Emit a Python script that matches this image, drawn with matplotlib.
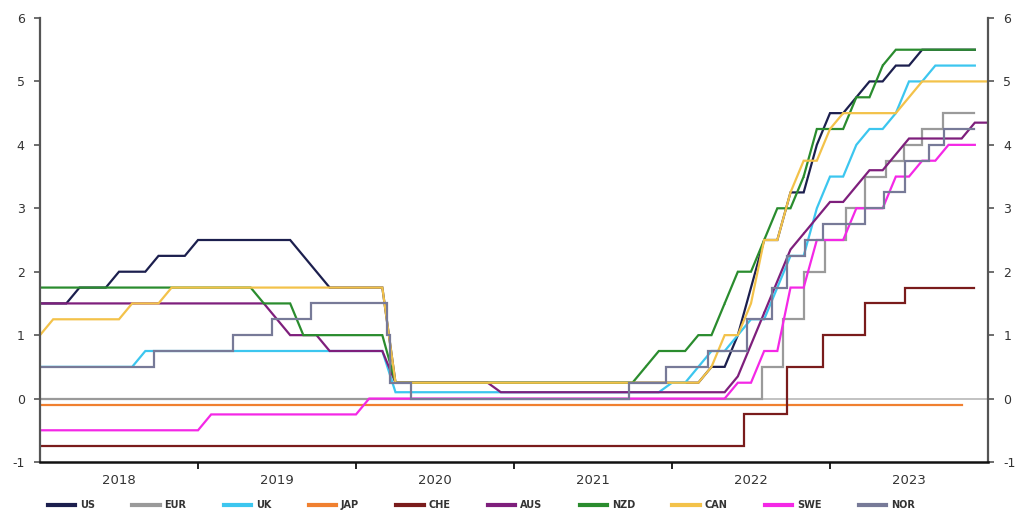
import datetime as dt
import matplotlib
matplotlib.use("Agg")
import matplotlib.pyplot as plt

# ---------------- data ----------------
# monthly (month-end) series: start value, (month, new value) changes, last month
US_start, US_end = 1.5, "2023-11"
US_changes = [("2018-03", 1.75), ("2018-06", 2.0), ("2018-09", 2.25), ("2018-12", 2.5),
              ("2019-08", 2.25), ("2019-09", 2.0), ("2019-10", 1.75), ("2020-03", 0.25),
              ("2022-03", 0.5), ("2022-05", 1.0), ("2022-06", 1.75), ("2022-07", 2.5),
              ("2022-09", 3.25), ("2022-11", 4.0), ("2022-12", 4.5), ("2023-02", 4.75),
              ("2023-03", 5.0), ("2023-05", 5.25), ("2023-07", 5.5)]

UK_start, UK_end = 0.5, "2023-11"
UK_changes = [("2018-08", 0.75), ("2020-03", 0.1), ("2021-12", 0.25), ("2022-02", 0.5),
              ("2022-03", 0.75), ("2022-05", 1.0), ("2022-06", 1.25), ("2022-08", 1.75),
              ("2022-09", 2.25), ("2022-11", 3.0), ("2022-12", 3.5), ("2023-02", 4.0),
              ("2023-03", 4.25), ("2023-05", 4.5), ("2023-06", 5.0), ("2023-08", 5.25)]

JAP_start, JAP_end = -0.1, "2023-10"
JAP_changes = []

AUS_start, AUS_end = 1.5, "2023-12"
AUS_changes = [("2019-06", 1.25), ("2019-07", 1.0), ("2019-10", 0.75), ("2020-03", 0.25),
               ("2020-11", 0.1), ("2022-05", 0.35), ("2022-06", 0.85), ("2022-07", 1.35),
               ("2022-08", 1.85), ("2022-09", 2.35), ("2022-10", 2.6), ("2022-11", 2.85),
               ("2022-12", 3.1), ("2023-02", 3.35), ("2023-03", 3.6), ("2023-05", 3.85),
               ("2023-06", 4.1), ("2023-11", 4.35)]

NZD_start, NZD_end = 1.75, "2023-11"
NZD_changes = [("2019-05", 1.5), ("2019-08", 1.0), ("2020-03", 0.25), ("2021-10", 0.5),
               ("2021-11", 0.75), ("2022-02", 1.0), ("2022-04", 1.5), ("2022-05", 2.0),
               ("2022-07", 2.5), ("2022-08", 3.0), ("2022-10", 3.5), ("2022-11", 4.25),
               ("2023-02", 4.75), ("2023-04", 5.25), ("2023-05", 5.5)]

CAN_start, CAN_end = 1.0, "2023-12"
CAN_changes = [("2018-01", 1.25), ("2018-07", 1.5), ("2018-10", 1.75), ("2020-03", 0.25),
               ("2022-03", 0.5), ("2022-04", 1.0), ("2022-06", 1.5), ("2022-07", 2.5),
               ("2022-09", 3.25), ("2022-10", 3.75), ("2022-12", 4.25), ("2023-01", 4.5),
               ("2023-06", 4.75), ("2023-07", 5.0)]

SWE_start, SWE_end = -0.5, "2023-11"
SWE_changes = [("2019-01", -0.25), ("2020-01", 0.0), ("2022-05", 0.25), ("2022-07", 0.75),
               ("2022-09", 1.75), ("2022-11", 2.5), ("2023-02", 3.0), ("2023-05", 3.5),
               ("2023-07", 3.75), ("2023-09", 4.0)]

# daily step series: start value, (date, new value) changes, last date
EUR_start, EUR_end = 0.0, "2023-11-30"
EUR_changes = [("2022-07-27", 0.5), ("2022-09-14", 1.25), ("2022-11-02", 2.0),
               ("2022-12-21", 2.5), ("2023-02-08", 3.0), ("2023-03-22", 3.5),
               ("2023-05-10", 3.75), ("2023-06-21", 4.0), ("2023-08-02", 4.25),
               ("2023-09-20", 4.5)]

CHE_start, CHE_end = -0.75, "2023-11-30"
CHE_changes = [("2022-06-17", -0.25), ("2022-09-23", 0.5), ("2022-12-16", 1.0),
               ("2023-03-24", 1.5), ("2023-06-23", 1.75)]

NOR_start, NOR_end = 0.5, "2023-11-30"
NOR_changes = [("2018-09-21", 0.75), ("2019-03-22", 1.0), ("2019-06-21", 1.25),
               ("2019-09-20", 1.5), ("2020-03-13", 1.0), ("2020-03-20", 0.25),
               ("2020-05-08", 0.0), ("2021-09-24", 0.25), ("2021-12-17", 0.5),
               ("2022-03-25", 0.75), ("2022-06-24", 1.25), ("2022-08-19", 1.75),
               ("2022-09-23", 2.25), ("2022-11-04", 2.5), ("2022-12-16", 2.75),
               ("2023-03-24", 3.0), ("2023-05-05", 3.25), ("2023-06-23", 3.75),
               ("2023-08-18", 4.0), ("2023-09-22", 4.25)]

years = [2018, 2019, 2020, 2021, 2022, 2023]
y_ticks = [-1, 0, 1, 2, 3, 4, 5, 6]

names = ["US", "EUR", "UK", "JAP", "CHE", "AUS", "NZD", "CAN", "SWE", "NOR"]
colors = {"US": "#1c1f4e", "EUR": "#9a9a9a", "UK": "#3cc6ef", "JAP": "#f08030",
          "CHE": "#7a1c1c", "AUS": "#7e1f7c", "NZD": "#2a8c2e", "CAN": "#f3c24a",
          "SWE": "#f428e6", "NOR": "#777a98"}


# ---------------- helpers ----------------
def month_end(s):
    y, m = s.split("-")
    return int(y) + int(m) / 12.0


def day_frac(s):
    d = dt.date.fromisoformat(s)
    start = dt.date(d.year, 1, 1)
    n = (dt.date(d.year + 1, 1, 1) - start).days
    return d.year + (d - start).days / n


def monthly_points(start, changes, end):
    xs, ys = [2018.0], [start]
    cur = start
    for mon, v in changes:
        t = month_end(mon)
        xs += [t - 1 / 12.0, t]
        ys += [cur, v]
        cur = v
    xs.append(month_end(end))
    ys.append(cur)
    return xs, ys


def step_points(start, changes, end):
    xs, ys = [2018.0], [start]
    cur = start
    for d, v in changes:
        t = day_frac(d)
        xs += [t, t]
        ys += [cur, v]
        cur = v
    xs.append(day_frac(end))
    ys.append(cur)
    return xs, ys


series = {
    "US": monthly_points(US_start, US_changes, US_end),
    "EUR": step_points(EUR_start, EUR_changes, EUR_end),
    "UK": monthly_points(UK_start, UK_changes, UK_end),
    "JAP": monthly_points(JAP_start, JAP_changes, JAP_end),
    "CHE": step_points(CHE_start, CHE_changes, CHE_end),
    "AUS": monthly_points(AUS_start, AUS_changes, AUS_end),
    "NZD": monthly_points(NZD_start, NZD_changes, NZD_end),
    "CAN": monthly_points(CAN_start, CAN_changes, CAN_end),
    "SWE": monthly_points(SWE_start, SWE_changes, SWE_end),
    "NOR": step_points(NOR_start, NOR_changes, NOR_end),
}

# ---------------- figure ----------------
plt.rcParams["font.family"] = ["DejaVu Sans"]
fig = plt.figure(figsize=(10.19, 5.17), dpi=100)
ax = fig.add_axes([40 / 1019, 1 - 462 / 517, (988 - 40) / 1019, (462 - 18) / 517])

ax.axhline(0, color="#b8b8b8", lw=1.2, zorder=1)

for n in names:
    xs, ys = series[n]
    ax.plot(xs, ys, color=colors[n], lw=1.6, label=n, solid_joinstyle="miter", zorder=2)

ax.set_xlim(2018, 2024)
ax.set_ylim(-1, 6)

# x axis: ticks at year boundaries, labels centred in the year
ax.set_xticks([y + 1 for y in years[:-1]])
ax.set_xticklabels([])
ax.set_xticks([y + 0.5 for y in years], minor=True)
ax.set_xticklabels([str(y) for y in years], minor=True)
ax.tick_params(axis="x", which="major", direction="out", length=5, width=1.3, color="#111111")
ax.tick_params(axis="x", which="minor", length=0, pad=9, labelsize=9.5, labelcolor="#333333")

# y axis on both sides
ax.set_yticks(y_ticks)
ax.set_yticklabels([str(v) for v in y_ticks])
ax.tick_params(axis="y", which="both", direction="out", length=4, width=1.2,
               color="#555555", labelsize=9, labelcolor="#333333",
               left=True, right=True, labelleft=True, labelright=True, pad=7)

for side in ["left", "right"]:
    ax.spines[side].set_color("#555555")
    ax.spines[side].set_linewidth(1.6)
ax.spines["top"].set_visible(False)
ax.spines["bottom"].set_color("#111111")
ax.spines["bottom"].set_linewidth(1.8)

leg = fig.legend(loc="center left", bbox_to_anchor=(44 / 1019, 1 - 505 / 517), ncol=10,
                 frameon=False, fontsize=7, handlelength=2.8, handletextpad=0.5,
                 columnspacing=3.85, borderaxespad=0)
for h in leg.get_lines():
    h.set_linewidth(3)
for t in leg.get_texts():
    t.set_fontweight("bold")
    t.set_color("#333333")

fig.savefig("out.png", dpi=100)
